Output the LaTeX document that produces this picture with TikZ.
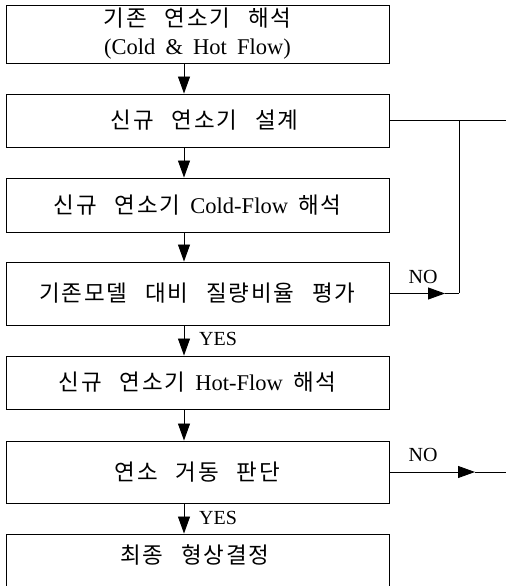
\documentclass[tikz,border=0pt]{standalone}
\usepackage{fontspec}
\setmainfont{Liberation Serif}[WordSpace=1.8]
\newfontfamily\kr[LetterSpace=8,WordSpace=2.6]{Noto Sans CJK KR}
\usetikzlibrary{arrows.meta}
\begin{document}
\begin{tikzpicture}[x=1pt,y=1pt,
  box/.style={draw=black, line width=0.9pt, minimum width=383pt, inner sep=0pt, align=center,
              font=\fontsize{22.5}{28}\selectfont},
  arr/.style={line width=0.9pt, -{Triangle[length=17pt,width=12pt]}},
  ln/.style={line width=0.9pt},
  lab/.style={font=\fontsize{20}{22}\selectfont, inner sep=0pt}]
\useasboundingbox (0,0) rectangle (506,586);
\fill[white] (0,0) rectangle (506,586);
\clip (0,0) rectangle (506,586);
\coordinate (ax) at (184,0);
\coordinate (vx) at (459,0);
\coordinate (tipa) at (445,0);
\coordinate (tipb) at (475,0);
\coordinate (rx) at (506,0);
\node[box, minimum height=58pt] (b1) at (197.5,552) {{\kr 기존 연소기 해석}\\(Cold \& Hot Flow)};
\node[box, minimum height=53pt] (b2) at (197.5,465.5) {\hspace{14pt}{\kr 신규 연소기 설계}};
\node[box, minimum height=54pt] (b3) at (197.5,381) {{\kr 신규 연소기} Cold-Flow {\kr 해석}};
\node[box, minimum height=63pt] (b4) at (197.5,292.5) {{\kr 기존모델 대비 질량비율 평가}};
\node[box, minimum height=53pt] (b5) at (197.5,203.5) {{\kr 신규 연소기} Hot-Flow {\kr 해석}};
\node[box, minimum height=62pt] (b6) at (197.5,114) {{\kr 연소 거동 판단}};
\node[box, minimum height=62pt] (b7) at (197.5,21) {};
\node[box, draw=none, minimum height=0pt] (t7) at (195,31) {{\kr 최종 형상결정}};
% vertical arrows
\draw[arr] (b1.south -| ax) -- (b2.north -| ax);
\draw[arr] (b2.south -| ax) -- (b3.north -| ax);
\draw[arr] (b3.south -| ax) -- (b4.north -| ax);
\draw[arr] (b4.south -| ax) -- (b5.north -| ax);
\draw[arr] (b5.south -| ax) -- (b6.north -| ax);
\draw[arr] (b6.south -| ax) -- (b7.north -| ax);
% feedback loop
\draw[ln] (b2.east) -- (b2.east -| rx);
\draw[ln] (b2.east -| vx) -- (b4.east -| vx);
\draw[arr] (b4.east) -- (b4.east -| tipa);
\draw[ln] (b4.east -| tipa) -- (b4.east -| vx);
\draw[arr] (b6.east) -- (b6.east -| tipb);
\draw[ln] (b6.east -| tipb) -- (b6.east -| rx);
% labels
\node[lab] (no1) at (423,309) {NO};
\node[lab] (no2) at (423,131) {NO};
\node[lab, anchor=west] (yes1) at (199,247) {YES};
\node[lab, anchor=west] (yes2) at (199,68) {YES};
\end{tikzpicture}
\end{document}
